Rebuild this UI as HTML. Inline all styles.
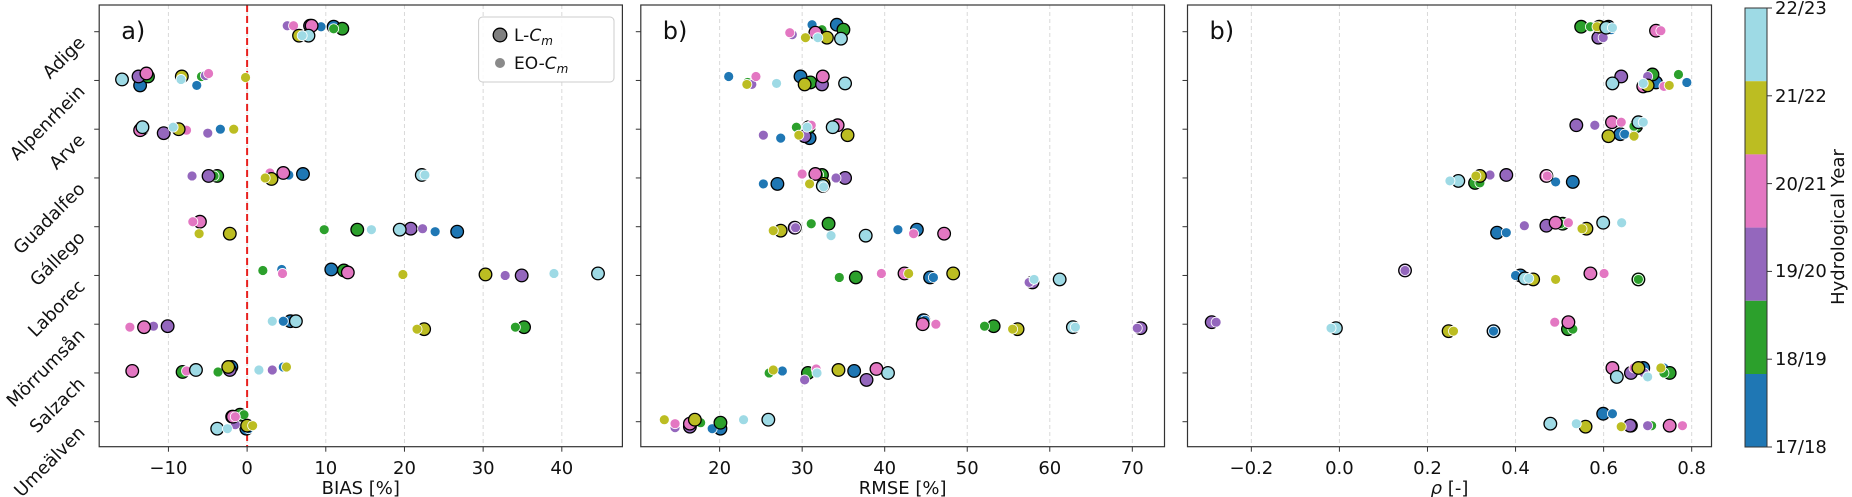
<!DOCTYPE html>
<html><head><meta charset="utf-8"><style>
html,body{margin:0;padding:0;background:#fff;}
svg{display:block;font-family:"DejaVu Sans","Liberation Sans",sans-serif;}
</style></head><body>
<svg id="chart" width="1852" height="497" viewBox="0 0 1852 497" xmlns="http://www.w3.org/2000/svg"></svg>
<script>
const rivers = ["Adige","Alpenrhein","Arve","Guadalfeo","Gállego","Laborec","Mörrumsån","Salzach","Umeälven"];
const years = ["17/18","18/19","19/20","20/21","21/22","22/23"];
const yearColors = ["#1f77b4","#2ca02c","#9467bd","#e377c2","#bcbd22","#9edae5"];

// BIAS panel: [blue, green, purple, pink, olive, cyan]
const biasL = [[11.0,12.1,8.0,8.2,6.6,7.8],[-13.6,-12.6,-13.8,-12.8,-8.3,-15.9],[-13.5,-13.4,-10.6,-13.6,-8.7,-13.3],[7.1,-3.8,-4.9,4.6,3.1,22.2],[26.7,14.0,20.8,-6.0,-2.2,19.4],[10.7,12.3,34.9,12.8,30.3,44.6],[5.5,35.2,-10.1,-13.1,22.5,6.2],[-2.0,-8.2,-2.2,-14.6,-2.4,-6.5],[-0.1,-0.9,-1.9,-1.8,0.0,-3.8]];
const biasE = [[9.4,11.0,5.1,5.9,7.2,7.0],[-6.4,-5.8,-5.3,-4.9,-0.2,-8.4],[-3.4,-13.2,-5.0,-7.7,-1.7,-9.4],[5.3,-4.2,-7.0,2.9,2.3,22.6],[23.9,9.8,22.3,-6.9,-6.1,15.8],[4.4,2.0,32.8,4.5,19.8,39.0],[4.6,34.1,-11.9,-14.9,21.6,3.2],[4.6,-3.7,3.2,-7.7,5.0,1.5],[0.2,-0.4,-1.5,-1.5,0.7,-2.5]];
const biasJL = [[-5,-3,-6,-6,4,4],[5,-4,-4,-7,-4,-1],[0,0,4,1,0,-2],[-4,-2,-2,-5,1,-3],[5,3,2,-5,7,3],[-6,-5,0,-3,-1,-2],[-3,3,2,3,5,-3],[-6,-1,-3,-2,-6,-3],[7,-7,-5,-5,4,7]];
const biasJE = [[-5,-3,-6,-6,4,4],[5,-4,-5,-7,-3,-1],[0,0,4,1,0,-2],[-3,-2,-2,-5,0,-3],[5,3,2,-5,7,3],[-6,-5,0,-2,-1,-2],[-3,3,2,3,5,-3],[-6,-1,-3,-2,-6,-3],[7,-7,3,-5,4,7]];

// RMSE panel
const rmseL = [[34.2,35.0,31.8,31.6,33.0,34.7],[29.8,31.0,32.4,32.5,30.3,35.2],[30.9,30.8,30.3,34.3,35.5,33.7],[27.0,32.4,35.2,31.6,32.6,32.5],[43.9,33.2,29.1,47.2,27.4,37.7],[45.5,36.5,57.9,42.4,48.3,61.2],[44.7,53.2,71.0,44.6,56.1,62.8],[36.3,30.7,37.8,39.0,34.4,40.4],[20.1,20.1,16.4,16.4,17.0,25.9]];
const rmseE = [[31.2,32.4,28.8,28.5,30.4,31.9],[21.1,23.4,23.9,24.4,23.3,26.9],[27.4,29.3,25.3,31.1,29.6,30.6],[25.3,32.0,34.1,30.0,30.9,32.6],[41.6,31.1,29.2,43.5,26.5,33.5],[45.9,34.5,57.5,39.6,42.9,58.1],[44.9,52.1,70.6,46.2,55.5,63.1],[27.6,26.0,30.3,31.7,26.5,31.8],[19.1,17.7,14.6,14.6,13.3,22.9]];
const rmseJL = [[-7,-2,2,1,6,7],[-4,2,4,-4,4,3],[9,-2,7,-4,6,-2],[6,-3,0,-4,6,8],[3,-3,1,7,4,9],[2,2,7,-2,-2,4],[-4,2,4,0,5,3],[-2,0,7,-4,-3,0],[7,1,5,2,-2,-2]];
const rmseJE = [[-7,-2,3,1,6,6],[-4,2,4,-4,4,3],[9,-2,6,-4,6,-2],[6,-3,0,-4,6,9],[3,-3,1,7,4,9],[2,2,7,-2,-2,4],[-4,2,4,0,5,3],[-2,0,7,-4,-3,0],[7,1,6,2,-2,-2]];

// rho panel
const rhoL = [[0.611,0.549,0.588,0.719,0.590,0.606],[0.719,0.711,0.640,0.690,0.700,0.620],[0.638,0.674,0.538,0.619,0.611,0.679],[0.530,0.308,0.379,0.470,0.319,0.270],[0.358,0.507,0.470,0.491,0.561,0.599],[0.411,0.679,0.149,0.570,0.440,0.421],[0.350,0.519,-0.290,0.520,0.248,-0.008],[0.690,0.750,0.662,0.620,0.679,0.630],[0.599,0.662,0.660,0.750,0.559,0.479]];
const rhoE = [[0.617,0.570,0.599,0.730,0.585,0.620],[0.789,0.770,0.700,0.737,0.749,0.690],[0.648,0.669,0.580,0.640,0.669,0.690],[0.491,0.319,0.342,0.472,0.310,0.251],[0.379,0.502,0.420,0.520,0.551,0.641],[0.400,0.679,0.149,0.601,0.491,0.430],[0.350,0.530,-0.280,0.489,0.259,-0.019],[0.737,0.737,0.692,0.669,0.730,0.700],[0.620,0.709,0.700,0.779,0.640,0.538]];
const rhoJL = [[-5,-5,6,-1,-5,-4],[2,-6,-4,6,5,3],[5,-3,-4,-7,7,-7],[4,5,-3,-2,-2,3],[6,-3,-1,-4,2,-4],[0,4,-5,-2,4,3],[7,5,-2,-2,7,4],[-5,0,0,-5,-5,4],[-8,4,4,4,5,2]];
const rhoJE = [[-2,-5,6,-1,-5,-4],[2,-6,-4,6,5,3],[5,-3,-4,-7,7,-7],[4,5,-3,-2,-2,3],[6,-3,-1,-4,2,-4],[0,4,-5,-2,4,3],[7,5,-2,-2,7,4],[-5,0,0,-5,-5,4],[-8,4,4,4,5,2]];

const biasTicks = [-10,0,10,20,30,40];
const biasTickLabels = ["−10","0","10","20","30","40"];
const rmseTicks = [20,30,40,50,60,70];
const rmseTickLabels = ["20","30","40","50","60","70"];
const rhoTicks = [-0.2,0.0,0.2,0.4,0.6,0.8];
const rhoTickLabels = ["−0.2","0.0","0.2","0.4","0.6","0.8"];

const NS = "http://www.w3.org/2000/svg";
const svg = document.getElementById("chart");
function mk(tag, attrs, parent){const e=document.createElementNS(NS,tag);for(const k in attrs)e.setAttribute(k,attrs[k]);(parent||svg).appendChild(e);return e;}

const TOP=5, BOT=446.7, ROW0=31.7, ROWSTEP=48.75, JIT=1/49;
function yScale(i){return ROW0 + i*ROWSTEP;}

const panels = [
 {name:"bias", x0:99.2, x1:622.4, min:-18.8, max:47.7, L:biasL, E:biasE, JL:biasJL, JE:biasJE, ticks:biasTicks, labels:biasTickLabels, title:"BIAS [%]", tag:"a)"},
 {name:"rmse", x0:640.8, x1:1164.5, min:10.45, max:73.9, L:rmseL, E:rmseE, JL:rmseJL, JE:rmseJE, ticks:rmseTicks, labels:rmseTickLabels, title:"RMSE [%]", tag:"b)"},
 {name:"rho", x0:1187.5, x1:1711.5, min:-0.345, max:0.845, L:rhoL, E:rhoE, JL:rhoJL, JE:rhoJE, ticks:rhoTicks, labels:rhoTickLabels, title:"", tag:"b)"}
];

panels.forEach((p,pi)=>{
  const xs = v => p.x0 + (v-p.min)/(p.max-p.min)*(p.x1-p.x0);
  const g = mk("g",{});
  
  
  p.ticks.forEach((t,ti)=>{
    const x=xs(t);
    const gl=mk("line",{x1:x,x2:x,y1:TOP,y2:BOT,stroke:"#d9d9d9","stroke-width":1,"stroke-dasharray":"4,3"},g);
    
    
    mk("line",{x1:x,x2:x,y1:BOT,y2:BOT+5,stroke:"#333","stroke-width":1},g);
    const tl=mk("text",{x:x,y:474,"text-anchor":"middle","font-size":18,fill:"#111"},g);
    tl.textContent=p.labels[ti];
    
    
  });
  if(pi===0){
    const zl=mk("line",{x1:xs(0),x2:xs(0),y1:TOP,y2:BOT,stroke:"#e8201e","stroke-width":2,"stroke-dasharray":"7,4"},g);
    
    
  }
  rivers.forEach((r,i)=>{
    const y=yScale(i);
    mk("line",{x1:p.x0-5,x2:p.x0,y1:y,y2:y,stroke:"#333","stroke-width":1},g);
    if(pi===0){
      const t=mk("text",{x:86,y:y+12,"text-anchor":"end","font-size":18,fill:"#111",transform:`rotate(-45 86 ${y+12})`},g);
      t.textContent=r;
      
      
    }
  });
  rivers.forEach((r,i)=>{
    years.forEach((yr,j)=>{
      const c=mk("circle",{cx:xs(p.L[i][j]),cy:yScale(i+p.JL[i][j]*JIT),r:6.3,fill:yearColors[j],stroke:"#000","stroke-width":1.3},g);
      
      
      const e=mk("circle",{cx:xs(p.E[i][j]),cy:yScale(i+p.JE[i][j]*JIT),r:5,fill:yearColors[j],stroke:"#fff","stroke-width":0.8},g);
      
      
    });
  });
  const fr=mk("rect",{x:p.x0,y:TOP,width:p.x1-p.x0,height:BOT-TOP,fill:"none",stroke:"#333","stroke-width":1.2},g);
  
  
  const tt=mk("text",{x:(p.x0+p.x1)/2,y:494,"text-anchor":"middle","font-size":18,fill:"#111"},g);
  if(pi===2){
    const ts=mk("tspan",{"font-style":"italic"},tt); ts.textContent="ρ";
    const ts2=mk("tspan",{},tt); ts2.textContent=" [-]";
  } else tt.textContent=p.title;
  
  
  const pl=mk("text",{x:p.x0+22,y:39,"font-size":24,fill:"#111"},g);
  pl.textContent=p.tag;
  
  
});
</script>
<svg x="0" y="0" width="1852" height="497" style="position:absolute;left:0;top:0" xmlns="http://www.w3.org/2000/svg">
  <g>
    <rect x="478.6" y="17" width="135.4" height="65" rx="4" fill="#fff" fill-opacity="0.85" stroke="#cccccc" stroke-width="1"/>
    <circle cx="500" cy="35" r="6.8" fill="#7f7f7f" stroke="#000" stroke-width="1.3"/>
    <text x="514" y="41" font-size="17" fill="#111" font-family="DejaVu Sans, Liberation Sans, sans-serif">L-<tspan font-style="italic">C</tspan><tspan font-style="italic" font-size="12" dy="4">m</tspan></text>
    <circle cx="500" cy="63" r="5" fill="#8a8a8a"/>
    <text x="514" y="69" font-size="17" fill="#111" font-family="DejaVu Sans, Liberation Sans, sans-serif">EO-<tspan font-style="italic">C</tspan><tspan font-style="italic" font-size="12" dy="4">m</tspan></text>
  </g>
  <g font-family="DejaVu Sans, Liberation Sans, sans-serif">
    <rect x="1745" y="8" width="22" height="73.2" fill="#9edae5"/>
    <rect x="1745" y="81.2" width="22" height="73.2" fill="#bcbd22"/>
    <rect x="1745" y="154.4" width="22" height="73.2" fill="#e377c2"/>
    <rect x="1745" y="227.6" width="22" height="73.2" fill="#9467bd"/>
    <rect x="1745" y="300.8" width="22" height="73.2" fill="#2ca02c"/>
    <rect x="1745" y="374" width="22" height="73" fill="#1f77b4"/>
    <rect x="1745" y="8" width="22" height="439" fill="none" stroke="#333" stroke-width="1"/>
    <g stroke="#333" stroke-width="1">
      <line x1="1767" x2="1772" y1="8" y2="8"/><line x1="1767" x2="1772" y1="95.8" y2="95.8"/>
      <line x1="1767" x2="1772" y1="183.6" y2="183.6"/><line x1="1767" x2="1772" y1="271.4" y2="271.4"/>
      <line x1="1767" x2="1772" y1="359.2" y2="359.2"/><line x1="1767" x2="1772" y1="447" y2="447"/>
    </g>
    <g font-size="18" fill="#111">
      <text x="1775" y="14">22/23</text>
      <text x="1775" y="102">21/22</text>
      <text x="1775" y="190">20/21</text>
      <text x="1775" y="277">19/20</text>
      <text x="1775" y="365">18/19</text>
      <text x="1775" y="453">17/18</text>
    </g>
    <text x="1844" y="227" font-size="18" fill="#111" text-anchor="middle" transform="rotate(-90 1844 227)">Hydrological Year</text>
  </g>
</svg>
</body></html>
